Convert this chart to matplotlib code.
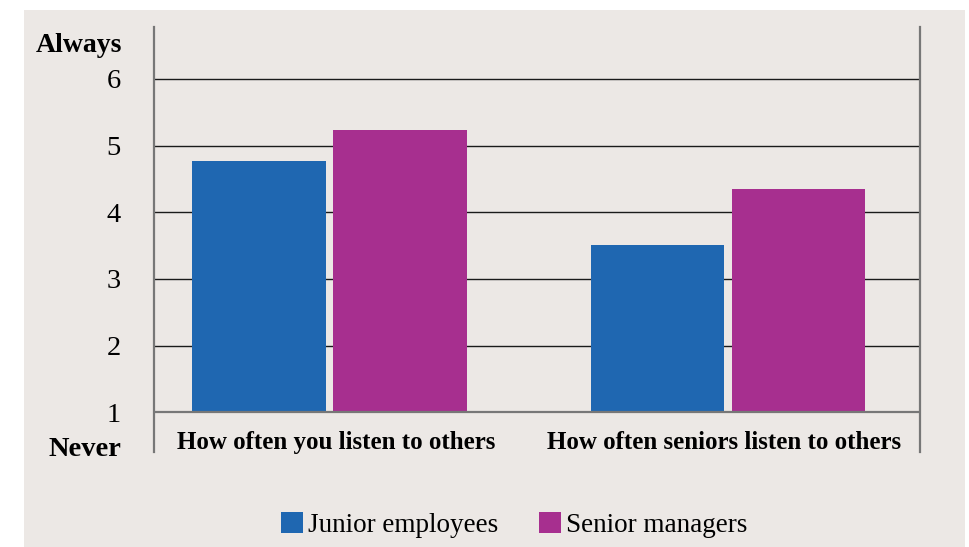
import numpy as np
import matplotlib
matplotlib.use("Agg")
import matplotlib.pyplot as plt
from matplotlib.patches import Rectangle, Patch
from matplotlib.transforms import blended_transform_factory

categories = ["How often you listen to others", "How often seniors listen to others"]
series_names = ["Junior employees", "Senior managers"]
junior = [4.77, 3.51]
senior = [5.23, 4.35]
y_ticks = [1, 2, 3, 4, 5, 6]

blue = "#1f67b1"
magenta = "#a72f8f"
panel = "#ece8e5"
serif = ["Liberation Serif", "DejaVu Serif"]

fig = plt.figure(figsize=(9.69, 5.47), dpi=100, facecolor="white")
# grey panel behind everything, leaving a white strip left and top
fig.patches.append(Rectangle((24 / 969, 0), 941 / 969, 1 - 10 / 547,
                             transform=fig.transFigure, facecolor=panel,
                             edgecolor="none", zorder=-5))

ax = fig.add_axes([154 / 969, 1 - 452 / 547, 766 / 969, 425 / 547])
ax.set_facecolor("none")

x = np.arange(len(categories))
w = 0.336
off = 0.177
ax.bar(x - off, np.array(junior) - 1, w, bottom=1, color=blue, zorder=3)
ax.bar(x + off, np.array(senior) - 1, w, bottom=1, color=magenta, zorder=3)

ax.set_xlim(-0.4404, 1.4818)
ax.set_ylim(0.405, 6.78)

for v in y_ticks[1:]:
    ax.axhline(v, color="#1a1a1a", lw=1.0, zorder=2)
ax.axhline(1, color="#777777", lw=1.6, zorder=4)

for s in ["top", "bottom"]:
    ax.spines[s].set_visible(False)
for s in ["left", "right"]:
    ax.spines[s].set_color("#777777")
    ax.spines[s].set_linewidth(1.6)

ax.set_xticks([])
ax.set_yticks(y_ticks)
ax.set_yticklabels([str(t) for t in y_ticks], family=serif, fontsize=20.5)
ax.tick_params(axis="y", length=0, pad=24)

tr = blended_transform_factory(ax.transAxes, ax.transData)
ax.text(-0.042, 6.5, "Always", transform=tr, ha="right", va="center",
        family=serif, fontsize=20, fontweight="bold")
ax.text(-0.042, 0.45, "Never", transform=tr, ha="right", va="center",
        family=serif, fontsize=20.5, fontweight="bold")

for xi, lab in zip([0.016, 0.99], categories):
    ax.text(xi, 0.55, lab, ha="center", va="center", family=serif,
            fontsize=18, fontweight="bold")

handles = [Patch(facecolor=blue), Patch(facecolor=magenta)]
fig.legend(handles, series_names, loc="center", bbox_to_anchor=(0.531, 0.04),
           ncol=2, frameon=False, handlelength=0.8, handleheight=0.8,
           handletextpad=0.2, columnspacing=1.5,
           prop={"family": serif, "size": 19.5})

fig.savefig("out.png", dpi=100, facecolor="white")
